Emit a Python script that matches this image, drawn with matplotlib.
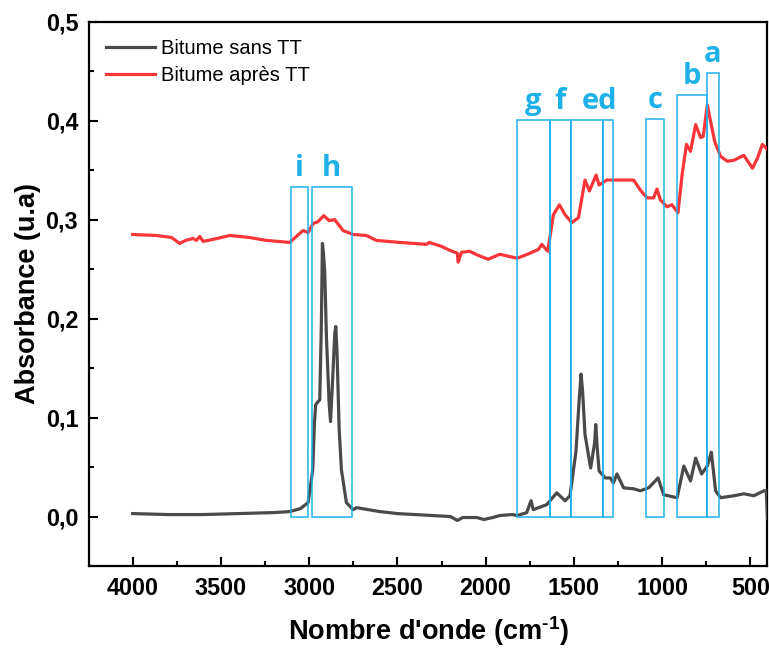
import matplotlib

matplotlib.use("Agg")

import matplotlib.pyplot as plt
from matplotlib.patches import Rectangle
from matplotlib.ticker import FuncFormatter, MultipleLocator

# Bitume sans TT (wavenumber cm-1, absorbance)
wn_sans = [4000, 3800, 3600, 3400, 3200, 3110, 3050, 3006, 2980, 2970, 2963,
           2950, 2940, 2931, 2925, 2920, 2912, 2902, 2887, 2879, 2868, 2855,
           2849, 2842, 2830, 2817, 2789, 2751, 2730, 2700, 2600, 2500, 2400,
           2300, 2200, 2160, 2130, 2100, 2050, 2010, 1960, 1920, 1850, 1821,
           1767, 1743, 1730, 1654, 1597, 1550, 1522, 1488, 1470, 1459, 1450,
           1437, 1405, 1382, 1376, 1368, 1357, 1322, 1294, 1276, 1256, 1218,
           1161, 1124, 1076, 1023, 991, 915, 877, 839, 810, 776, 744, 721,
           697, 669, 593, 537, 480, 423, 410, 403]
abs_sans = [0.003, 0.002, 0.002, 0.003, 0.004, 0.005, 0.008, 0.014, 0.047,
            0.095, 0.113, 0.116, 0.118, 0.194, 0.276, 0.268, 0.248, 0.181,
            0.115, 0.096, 0.135, 0.185, 0.192, 0.165, 0.088, 0.047, 0.014,
            0.007, 0.009, 0.008, 0.005, 0.003, 0.002, 0.001, 0.000, -0.004,
            -0.001, -0.001, -0.001, -0.003, -0.001, 0.001, 0.002, 0.001, 0.004,
            0.016, 0.007, 0.012, 0.024, 0.016, 0.021, 0.066, 0.118, 0.144,
            0.125, 0.083, 0.049, 0.075, 0.093, 0.070, 0.046, 0.039, 0.039,
            0.034, 0.043, 0.029, 0.028, 0.026, 0.029, 0.039, 0.022, 0.019,
            0.051, 0.036, 0.059, 0.043, 0.051, 0.065, 0.026, 0.019, 0.021,
            0.023, 0.021, 0.026, 0.026, -0.002]

# Bitume apres TT
wn_apres = [4000, 3866, 3780, 3734, 3700, 3658, 3639, 3620, 3601, 3520, 3450,
            3340, 3242, 3110, 3035, 3006, 2978, 2950, 2917, 2887, 2855, 2808,
            2751, 2675, 2619, 2487, 2335, 2320, 2250, 2203, 2160, 2156, 2137,
            2090, 2043, 1986, 1920, 1821, 1749, 1700, 1682, 1648, 1616, 1582,
            1550, 1512, 1474, 1437, 1412, 1374, 1357, 1314, 1256, 1161, 1124,
            1085, 1048, 1029, 1010, 972, 944, 910, 887, 862, 839, 810, 782,
            767, 744, 725, 702, 669, 631, 593, 537, 507, 488, 460, 432, 403]
abs_apres = [0.285, 0.284, 0.282, 0.276, 0.279, 0.281, 0.279, 0.283, 0.278,
             0.281, 0.284, 0.282, 0.279, 0.277, 0.289, 0.287, 0.296, 0.298,
             0.304, 0.299, 0.300, 0.289, 0.285, 0.284, 0.279, 0.277, 0.275,
             0.277, 0.273, 0.269, 0.266, 0.257, 0.267, 0.268, 0.264, 0.260,
             0.265, 0.261, 0.266, 0.270, 0.275, 0.268, 0.305, 0.315, 0.305,
             0.297, 0.302, 0.340, 0.329, 0.345, 0.335, 0.340, 0.340, 0.340,
             0.330, 0.322, 0.322, 0.331, 0.320, 0.313, 0.315, 0.307, 0.345,
             0.376, 0.369, 0.396, 0.383, 0.384, 0.416, 0.399, 0.379, 0.364,
             0.359, 0.360, 0.365, 0.357, 0.352, 0.362, 0.376, 0.371]

# band boxes: (high wavenumber, low wavenumber, top)
box_hi = [3105, 2986, 1820, 1637, 1517, 1335, 1089, 918, 748]
box_lo = [3005, 2756, 1637, 1517, 1335, 1279, 988, 748, 676]
box_top = [0.333, 0.333, 0.401, 0.401, 0.401, 0.401, 0.402, 0.426, 0.448]

band_labels = ["i", "h", "g", "f", "ed", "c", "b", "a"]
band_label_x = [3058, 2872, 1729, 1577, 1355, 1038, 833, 712]
band_label_y = [0.344, 0.344, 0.412, 0.412, 0.412, 0.413, 0.437, 0.459]

x_ticks = [4000, 3500, 3000, 2500, 2000, 1500, 1000, 500]
y_ticks = [0.0, 0.1, 0.2, 0.3, 0.4, 0.5]

blue = "#1DB1E8"

plt.rcParams["font.family"] = ["Liberation Sans", "DejaVu Sans"]
plt.rcParams["mathtext.fontset"] = "custom"
plt.rcParams["mathtext.rm"] = "Liberation Sans:bold"
plt.rcParams["mathtext.bf"] = "Liberation Sans:bold"

fig = plt.figure(figsize=(7.69, 6.5), dpi=100)
ax = fig.add_axes([0.1161, 0.1292, 0.8819, 0.8374])

ax.plot(wn_sans, abs_sans, color="#4A4A4A", lw=2.3, label="Bitume sans TT",
        solid_joinstyle="round", zorder=3)
ax.plot(wn_apres, abs_apres, color="#F83539", lw=2.3, label="Bitume après TT",
        solid_joinstyle="round", zorder=3)

for hi, lo, top in zip(box_hi, box_lo, box_top):
    ax.add_patch(Rectangle((lo, 0.0), hi - lo, top, fill=False,
                           edgecolor=blue, lw=1.1, zorder=4))

for lab, x, y in zip(band_labels, band_label_x, band_label_y):
    ax.text(x, y, lab, color=blue, fontsize=21, fontweight="bold",
            family="Open Sans", ha="center", va="baseline")

ax.set_xlim(4246, 403)
ax.set_ylim(-0.05, 0.5)

ax.set_xticks(x_ticks)
ax.set_yticks(y_ticks)
ax.xaxis.set_minor_locator(MultipleLocator(250))
ax.yaxis.set_minor_locator(MultipleLocator(0.05))
ax.yaxis.set_major_formatter(FuncFormatter(lambda v, p: f"{v:.1f}".replace(".", ",")))

ax.tick_params(which="major", direction="in", length=6.5, width=1.5,
               labelsize=16.8, pad=8)
ax.tick_params(which="minor", direction="in", length=3.5, width=1.5)
for lab in ax.get_xticklabels() + ax.get_yticklabels():
    lab.set_fontweight("bold")

for side in ["left", "bottom", "top", "right"]:
    ax.spines[side].set_linewidth(1.6)

ax.set_xlabel("Nombre d'onde (cm$^{\\text{-1}}$)", fontsize=19.5,
              fontweight="bold", labelpad=10)
ax.set_ylabel("Absorbance (u.a)", fontsize=19.5, fontweight="bold", labelpad=3)

ax.legend(loc="upper left", bbox_to_anchor=(0.0, 1.0), frameon=False,
          fontsize=14.5, handlelength=2.4, handletextpad=0.3, labelspacing=0.4,
          borderaxespad=0.45)

fig.savefig("out.png", dpi=100)
plt.close(fig)
